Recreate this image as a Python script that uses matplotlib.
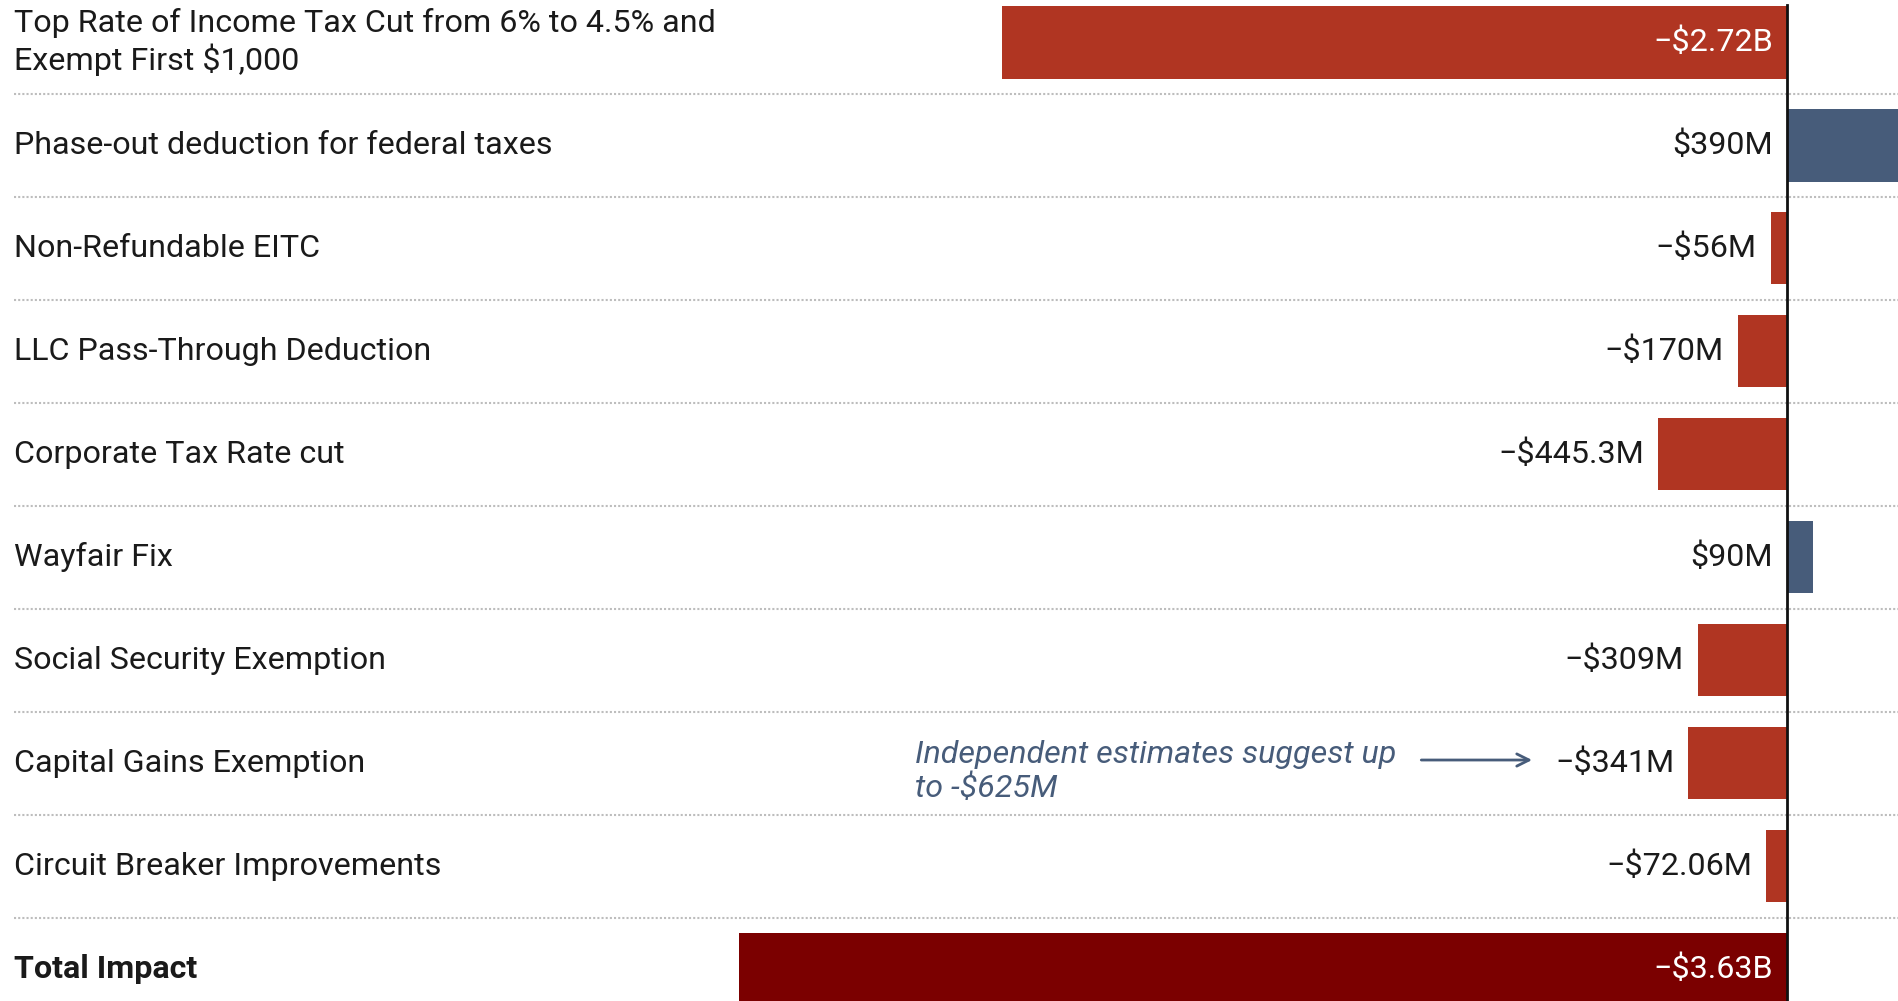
import matplotlib.pyplot as plt
import matplotlib.transforms as mtransforms

plt.rcParams['font.family'] = ['Roboto', 'DejaVu Sans']

# values in billions of dollars
categories = [
    'Top Rate of Income Tax Cut from 6% to 4.5% and\nExempt First $1,000',
    'Phase-out deduction for federal taxes',
    'Non-Refundable EITC',
    'LLC Pass-Through Deduction',
    'Corporate Tax Rate cut',
    'Wayfair Fix',
    'Social Security Exemption',
    'Capital Gains Exemption',
    'Circuit Breaker Improvements',
    'Total Impact',
]
values = [-2.72, 0.39, -0.056, -0.170, -0.4453, 0.09, -0.309, -0.341, -0.07206, -3.63]
value_labels = ['\u2212$2.72B', '$390M', '\u2212$56M', '\u2212$170M', '\u2212$445.3M',
                '$90M', '\u2212$309M', '\u2212$341M', '\u2212$72.06M', '\u2212$3.63B']
note_text = 'Independent estimates suggest up\nto -$625M'

RED = '#B03522'
BLUE = '#475C7A'
DARK = '#7B0000'
TXT = '#1a1a1a'
FS = 23.2

fig = plt.figure(figsize=(18.98, 10.01), dpi=100)
ax = fig.add_axes([0, 0, 1, 1])

n = len(categories)
ys = list(range(n))
colors = []
for i, v in enumerate(values):
    if i == n - 1:
        colors.append(DARK)
    elif v < 0:
        colors.append(RED)
    else:
        colors.append(BLUE)

ax.barh(ys, values, height=0.705, color=colors, zorder=2)

ax.set_xlim(-6.19, 0.385)
ax.set_ylim(9.31, -0.41)
ax.axis('off')

# zero line
ax.plot([0, 0], [-0.36, 9.4], color='#111111', lw=2, zorder=4)

# dotted separators
trans_lbl = mtransforms.blended_transform_factory(ax.transAxes, ax.transData)
for i in range(n - 1):
    ax.plot([0.0076, 1.0], [i + 0.5, i + 0.5], transform=trans_lbl,
            color='#bdbdbd', lw=1.5, linestyle=(0, (1, 1)), zorder=1)

# category labels
for i, c in enumerate(categories):
    ax.text(0.0076, i, c, transform=trans_lbl, ha='left', va='center',
            fontsize=FS, color=TXT, linespacing=1.2,
            fontweight='bold' if i == n - 1 else 'normal')

# value labels
off = 14 / 288.5
for i, (v, lab) in enumerate(zip(values, value_labels)):
    if v <= -1:
        ax.text(-off, i, lab, ha='right', va='center', fontsize=FS, color='white', zorder=5)
    elif v > 0:
        ax.text(-off, i, lab, ha='right', va='center', fontsize=FS, color=TXT, zorder=5)
    else:
        ax.text(v - off, i, lab, ha='right', va='center', fontsize=FS, color=TXT, zorder=5)

# annotation for capital gains
ax.text(-3.02, 7.08, note_text, ha='left', va='center', fontsize=FS,
        style='italic', color=BLUE, linespacing=1.2)
ax.annotate('', xy=(-0.873, 6.97), xytext=(-1.276, 6.97),
            arrowprops=dict(arrowstyle='->', color=BLUE, lw=2, mutation_scale=22))

fig.savefig('out.png', dpi=100)
